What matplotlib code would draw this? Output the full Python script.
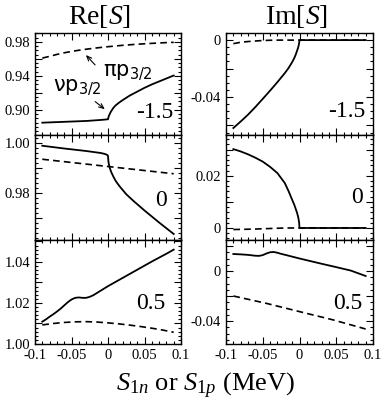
import matplotlib
matplotlib.use('Agg')
import matplotlib.pyplot as plt
from matplotlib.ticker import FixedLocator, FixedFormatter, MultipleLocator

plt.rcParams['font.family'] = ['Liberation Serif', 'DejaVu Serif']
plt.rcParams['mathtext.fontset'] = 'custom'
plt.rcParams['mathtext.rm'] = 'Liberation Serif'
plt.rcParams['mathtext.it'] = 'Liberation Serif:italic'
plt.rcParams['axes.unicode_minus'] = False

# ---- data ----
# top row: -1.5
re15_nu_x = [-0.09, -0.06, -0.03, -0.01, 0.0, 0.001, 0.002, 0.004, 0.007, 0.01, 0.015, 0.02, 0.03,
             0.04, 0.05, 0.06, 0.07, 0.08, 0.09]
re15_nu_y = [0.885, 0.886, 0.887, 0.8882, 0.889, 0.8925, 0.8945, 0.898, 0.902, 0.905, 0.9085, 0.9115,
             0.917, 0.9215, 0.926, 0.930, 0.9335, 0.937, 0.9405]
re15_pi_x = [-0.09, -0.08, -0.07, -0.06, -0.05, -0.04, -0.03, -0.02, -0.01, 0.0, 0.02, 0.04, 0.06, 0.08, 0.09]
re15_pi_y = [0.961, 0.963, 0.9653, 0.9672, 0.9688, 0.9702, 0.9714, 0.9725, 0.9735, 0.9744, 0.9760,
             0.9773, 0.9783, 0.9792, 0.9795]
im15_nu_x = [-0.09, -0.08, -0.07, -0.06, -0.05, -0.04, -0.03, -0.02, -0.015, -0.01, -0.007, -0.005,
             -0.002, -0.001, -0.0003, 0.0, 0.09]
im15_nu_y = [-0.0618, -0.0572, -0.0524, -0.0470, -0.0413, -0.0355, -0.0295, -0.0232, -0.0197, -0.0155,
             -0.0125, -0.0100, -0.0055, -0.0035, -0.0013, 0.0, 0.0]
im15_pi_x = [-0.09, -0.08, -0.07, -0.06, -0.05, -0.04, -0.03, 0.0, 0.09]
im15_pi_y = [-0.0025, -0.0015, -0.001, -0.0006, -0.0003, -0.0001, 0.0, 0.0, 0.0]

# middle row: 0
re0_nu_x = [-0.09, -0.06, -0.03, -0.01, -0.004, -0.001, 0.0, 0.0005, 0.001, 0.002, 0.0035, 0.005,
            0.0073, 0.01, 0.0125, 0.0164, 0.025, 0.035, 0.05, 0.07, 0.09]
re0_nu_y = [0.9989, 0.9978, 0.9968, 0.9960, 0.9956, 0.9952, 0.9948, 0.9928, 0.9918, 0.9905, 0.9891,
            0.9880, 0.9866, 0.9851, 0.9840, 0.9825, 0.9795, 0.9768, 0.9730, 0.9682, 0.9636]
re0_pi_x = [-0.09, 0.0, 0.09]
re0_pi_y = [0.9935, 0.9906, 0.9877]
im0_nu_x = [-0.09, -0.08, -0.07, -0.06, -0.05, -0.04, -0.03, -0.02, -0.015, -0.01, -0.007, -0.005,
            -0.003, -0.0015, -0.0005, 0.0, 0.09]
im0_nu_y = [0.0302, 0.0293, 0.0282, 0.0269, 0.0254, 0.0234, 0.0210, 0.0172, 0.0142, 0.0108, 0.0088,
            0.0072, 0.0055, 0.0038, 0.0020, 0.0, 0.0]
im0_pi_x = [-0.09, -0.06, -0.04, -0.02, 0.0, 0.09]
im0_pi_y = [-0.0006, -0.0004, -0.0002, 0.0, 0.0, 0.0]

# bottom row: 0.5
re05_nu_x = [-0.09, -0.085, -0.08, -0.075, -0.07, -0.065, -0.06, -0.055, -0.05, -0.045, -0.04, -0.035,
             -0.03, -0.025, -0.02, -0.01, 0.0, 0.02, 0.04, 0.06, 0.08, 0.09]
re05_nu_y = [1.0109, 1.0120, 1.0133, 1.0145, 1.0158, 1.0172, 1.0188, 1.0204, 1.0217, 1.0225, 1.0227,
             1.0225, 1.0225, 1.0230, 1.0238, 1.0260, 1.0282, 1.0322, 1.0362, 1.0402, 1.0440, 1.0460]
re05_pi_x = [-0.09, -0.075, -0.06, -0.045, -0.03, -0.015, 0.0, 0.015, 0.03, 0.045, 0.06, 0.075, 0.09]
re05_pi_y = [1.0093, 1.0100, 1.0105, 1.0108, 1.0109, 1.0107, 1.0103, 1.0098, 1.0092, 1.0085, 1.0077,
             1.0068, 1.0057]
im05_nu_x = [-0.09, -0.08, -0.07, -0.06, -0.055, -0.05, -0.045, -0.04, -0.035, -0.03, -0.025, -0.02,
             0.0, 0.03, 0.05, 0.07, 0.09]
im05_nu_y = [0.0136, 0.0133, 0.0129, 0.0122, 0.0121, 0.0127, 0.0140, 0.0150, 0.0152, 0.0146, 0.0137,
             0.0130, 0.0100, 0.0058, 0.0031, 0.0003, -0.0040]
im05_pi_x = [-0.09, -0.045, 0.0, 0.045, 0.09]
im05_pi_y = [-0.020, -0.0259, -0.0325, -0.039, -0.0464]

x_ticks = [-0.1, -0.05, 0, 0.05, 0.1]
x_labels = ['-0.1', '-0.05', '0', '0.05', '0.1']

panels = [
    # (row, col, nu x, nu y, pi x, pi y, ylim, major ticks, labels, minor step, tag, tag pos)
    (0, 0, re15_nu_x, re15_nu_y, re15_pi_x, re15_pi_y, (0.8705, 0.9905),
     [0.90, 0.92, 0.94, 0.96, 0.98], ['0.90', '', '0.94', '', '0.98'], 0.005, '-1.5', (0.82, 0.22)),
    (0, 1, im15_nu_x, im15_nu_y, im15_pi_x, im15_pi_y, (-0.0667, 0.005),
     [-0.06, -0.04, -0.02, 0.0], ['', '-0.04', '', '0'], 0.005, '-1.5', (0.82, 0.23)),
    (1, 0, re0_nu_x, re0_nu_y, re0_pi_x, re0_pi_y, (0.9612, 1.0032),
     [0.97, 0.98, 0.99, 1.00], ['', '0.98', '', '1.00'], 0.002, '0', (0.86, 0.38)),
    (1, 1, im0_nu_x, im0_nu_y, im0_pi_x, im0_pi_y, (-0.0046, 0.0356),
     [0.0, 0.01, 0.02, 0.03], ['0', '', '0.02', ''], 0.002, '0', (0.89, 0.40)),
    (2, 0, re05_nu_x, re05_nu_y, re05_pi_x, re05_pi_y, (1.00, 1.0507),
     [1.00, 1.01, 1.02, 1.03, 1.04, 1.05], ['1.00', '', '1.02', '', '1.04', ''], 0.002, '0.5', (0.79, 0.39)),
    (2, 1, im05_nu_x, im05_nu_y, im05_pi_x, im05_pi_y, (-0.0584, 0.0248),
     [-0.04, -0.02, 0.0, 0.02], ['-0.04', '', '0', ''], 0.005, '0.5', (0.83, 0.39)),
]

W, H = 382, 413
fig = plt.figure(figsize=(W / 100, H / 100), dpi=100)

col_px = [(35, 181), (226, 373)]
row_px = [(33, 135), (135, 240), (240, 344)]

axes = {}
for row, col, nx, ny, px, py, ylim, yt, yl, ymin, tag, tagpos in panels:
    x0, x1 = col_px[col]
    y0, y1 = row_px[row]
    ax = fig.add_axes([x0 / W, 1 - y1 / H, (x1 - x0) / W, (y1 - y0) / H])
    axes[(row, col)] = ax
    ax.plot(px, py, color='black', lw=1.2, ls=(0, (4, 2.5)))
    ax.plot(nx, ny, color='black', lw=1.3)
    ax.set_xlim(-0.1, 0.1)
    ax.set_ylim(*ylim)
    ax.xaxis.set_major_locator(FixedLocator(x_ticks))
    ax.xaxis.set_minor_locator(MultipleLocator(0.01))
    ax.yaxis.set_major_locator(FixedLocator(yt))
    ax.yaxis.set_major_formatter(FixedFormatter(yl))
    ax.yaxis.set_minor_locator(MultipleLocator(ymin))
    if row == 2:
        ax.xaxis.set_major_formatter(FixedFormatter(x_labels))
    else:
        ax.set_xticklabels([])
    ax.tick_params(which='both', direction='in', top=True, right=True, labelsize=10.5, width=0.8)
    ax.tick_params(which='major', length=5)
    ax.tick_params(which='minor', length=2.5)
    for s in ax.spines.values():
        s.set_linewidth(1.0)
    ax.text(tagpos[0], tagpos[1], tag, transform=ax.transAxes, fontsize=17,
            ha='center', va='center')

# labels of the two curves in the top-left panel
ax = axes[(0, 0)]
ax.text(0.027, 0.9435, 'πp$_{3/2}$', fontsize=15, family='DejaVu Sans',
        math_fontfamily='dejavusans', ha='center', va='center')
ax.text(-0.0425, 0.926, 'νp$_{3/2}$', fontsize=15, family='DejaVu Sans',
        math_fontfamily='dejavusans', ha='center', va='center')
ax.annotate('', xy=(-0.0329, 0.967), xytext=(-0.0151, 0.9506),
            arrowprops=dict(arrowstyle='->,head_length=0.35,head_width=0.15', lw=0.8, color='black'))
ax.annotate('', xy=(-0.0014, 0.8988), xytext=(-0.0205, 0.9118),
            arrowprops=dict(arrowstyle='->,head_length=0.35,head_width=0.15', lw=0.8, color='black'))

fig.text(100 / W, 1 - 17 / H, 'Re[$S$]', fontsize=20, ha='center', va='center')
fig.text(297 / W, 1 - 17 / H, 'Im[$S$]', fontsize=20, ha='center', va='center')
fig.text(205 / W, 1 - 386 / H, r'$S_{\mathit{1n}}$ or $S_{\mathit{1p}}$ (MeV)', fontsize=19,
         ha='center', va='center')

fig.savefig('out.png', dpi=100)
